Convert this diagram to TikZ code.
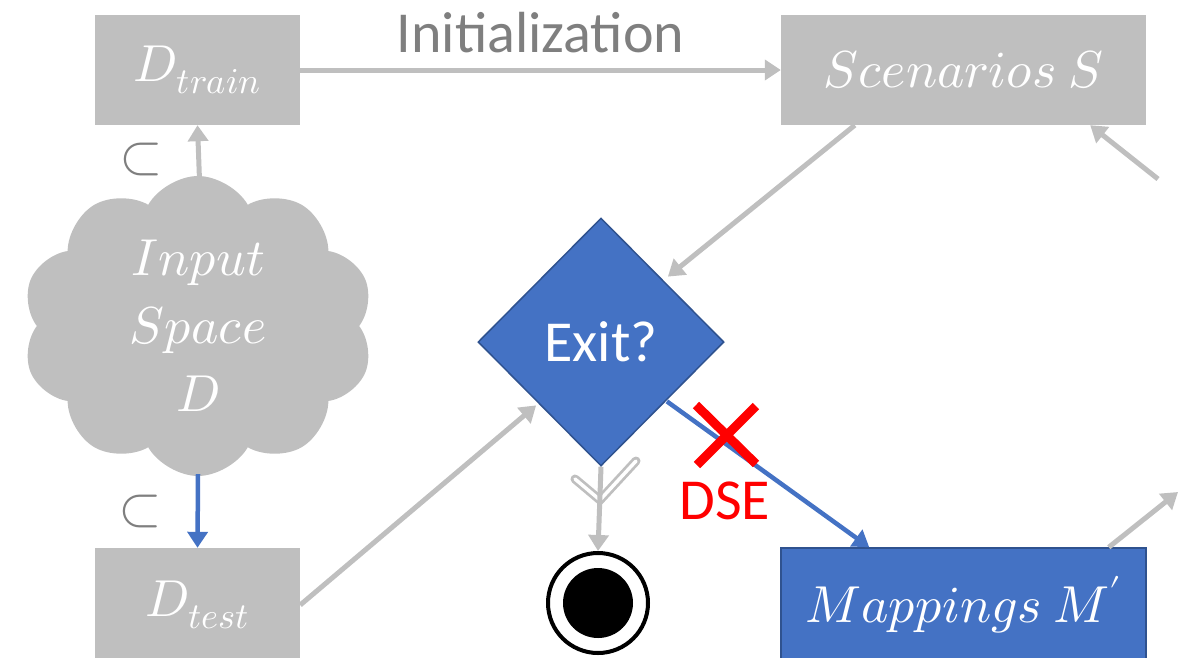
\documentclass[tikz,border=0pt]{standalone}
\usepackage{unicode-math}
\setmainfont{Carlito}
\setmathfont{Latin Modern Math}
\usetikzlibrary{shapes.geometric,shapes.symbols,arrows.meta,calc}
\definecolor{boxgray}{HTML}{BFBFBF}
\definecolor{labgray}{HTML}{7F7F7F}
\definecolor{accent}{HTML}{4472C4}
\definecolor{accentdark}{HTML}{2F528F}
\definecolor{xred}{HTML}{FF0000}
\tikzset{
  graybox/.style={fill=boxgray, draw=none, text=white, inner sep=0pt},
  bluebox/.style={fill=accent, draw=accentdark, line width=1.5pt, text=white, inner sep=0pt},
  flow/.style={draw=boxgray, line width=5pt, -{Triangle[length=16pt,width=20pt]}},
  blueflow/.style={draw=accent, line width=4.5pt, -{Triangle[length=16pt,width=20pt]}},
  mathlabel/.style={font=\fontsize{52}{58}\selectfont},
  sublabel/.style={text=labgray, font=\fontsize{56}{60}\selectfont},
  wordlabel/.style={font=\fontsize{58}{64}\selectfont},
}
\begin{document}
\begin{tikzpicture}[x=1pt,y=-1pt]
\useasboundingbox (0,0) rectangle (1186,657);

% boxes
\node[graybox, minimum width=205pt, minimum height=110pt, mathlabel] (train) at (197.5,70) {$D_{train}$};
\node[graybox, minimum width=365pt, minimum height=110pt, mathlabel] (scen) at (963.5,70) {$Scenarios\ S$};
\node[graybox, minimum width=205pt, minimum height=114pt, mathlabel] (test) at (197.5,605) {$D_{test}$};
\node[bluebox, minimum width=365pt, minimum height=114pt, mathlabel] (map) at (963.5,605) {$Mappings\ M'$};

% input space cloud
\node[cloud, cloud puffs=10, cloud puff arc=120, cloud ignores aspect, fill=boxgray, draw=none,
      minimum width=352pt, minimum height=300pt, text=white, align=center,
      font=\fontsize{52}{68}\selectfont] (space) at (198,326)
      {$Input$\\$Space$\\$D$};

% decision
\node[diamond, fill=accent, draw=accentdark, line width=1.5pt, minimum width=246pt, minimum height=248pt,
      inner sep=0pt, text=white, wordlabel] (exit) at (601,342) {Exit?};

% final state
\node[circle, draw=black, line width=4pt, fill=white, minimum size=100pt, inner sep=0pt] (final) at (598,603) {};
\node[circle, fill=black, minimum size=70pt, inner sep=0pt] (finaldot) at (final.center) {};

% connectors
\draw[flow] (train.east) -- node[above=11pt, text=labgray, wordlabel] (init) {Initialization} (scen.west);
\draw[flow] ($(space.north)+(2,18)$) -- node[left=30pt, sublabel] (sub1) {$\subset$} (train.south);
\draw[blueflow] ($(space.south)+(0,-2)$) -- node[left=30pt, sublabel] (sub2) {$\subset$} (test.north);
\draw[flow] ($(scen.south west)+(74,0)$) -- ($(exit.north east)+(5,-3)$);
\draw[flow] (test.east) -- ($(exit.south west)+(-3,1)$);
\draw[blueflow] ($(exit.south east)+(4,-3)$) -- ($(map.north west)+(89,0)$);

% open branch mark on the exit path
\draw[boxgray, line width=9pt, line cap=round, line join=miter] (575,479) -- (600,500) -- (636,461);
\draw[white, line width=3.5pt, line cap=round, line join=miter] (575,479) -- (600,500) -- (636,461);
\draw[flow] (exit.south) -- (final.north);

% rejected exploration
\draw[xred, line width=9pt] (696,405) -- (756,464);
\draw[xred, line width=9pt] (756,406) -- (697,465);
\node[text=xred, wordlabel] (dse) at (725,501) {DSE};

% loop arrows leaving the frame
\coordinate (loopin) at (1158,179);
\coordinate (loopout) at (1178,492);
\draw[flow] (loopin) -- ($(scen.south east)+(-56,0)$);
\draw[flow] ($(map.north east)+(-38,0)$) -- (loopout);
\end{tikzpicture}
\end{document}
